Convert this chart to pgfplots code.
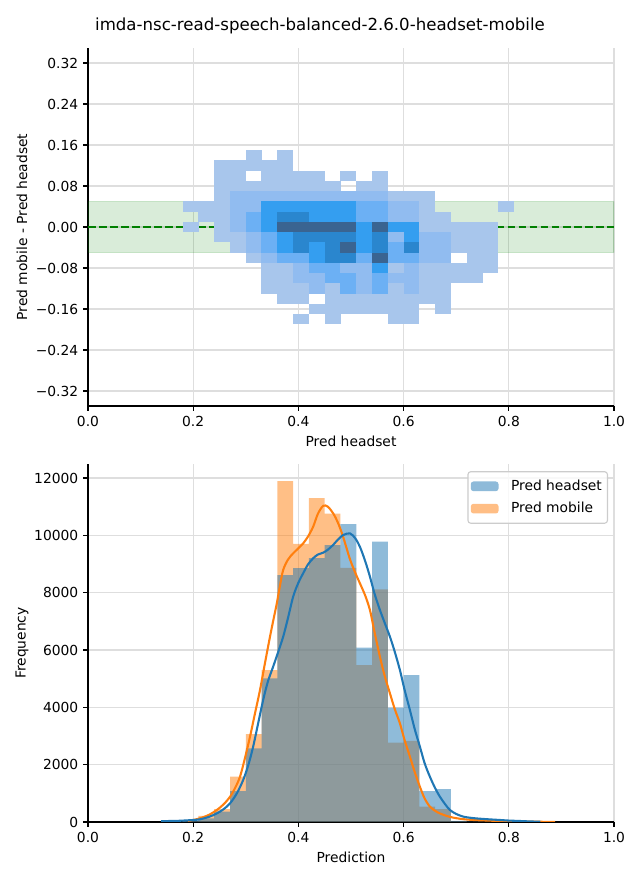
\documentclass[border=0pt]{standalone}
\usepackage{fontspec}
\setmainfont{DejaVu Sans}
\usepackage{pgfplots}
\pgfplotsset{compat=1.18}
\definecolor{cblue}{RGB}{31,119,180}
\definecolor{corange}{RGB}{255,127,14}
\definecolor{mplgreen}{RGB}{0,128,0}
\definecolor{gridgray}{RGB}{222,222,222}
\definecolor{legframe}{RGB}{204,204,204}
\pgfdeclareplotmark{cell}{\pgfpathrectangle{\pgfpoint{-5.74bp}{-3.74bp}}{\pgfpoint{11.48bp}{7.48bp}}\pgfusepathqfill}
\pgfplotsset{
  common/.style={
    width=378.72bp, height=257.76bp, scale only axis,
    xmin=0, xmax=1,
    axis x line*=bottom, axis y line*=left,
    axis line style={black, line width=0.8bp, -},
    tick style={black, line width=0.8bp},
    tick align=outside, major tick length=3.5bp,
    grid=major, grid style={gridgray, line width=0.8bp},
    scaled ticks=false,
    xtick={0,0.2,0.4,0.6,0.8,1}, xticklabels={0.0,0.2,0.4,0.6,0.8,1.0},
    tick label style={font=\fontsize{10}{12}\selectfont},
    label style={font=\fontsize{10}{12}\selectfont},
    every axis x label/.style={at={(axis description cs:0.5,-0.0978)}, anchor=center},
    every axis y label/.style={at={(axis description cs:-0.1255,0.5)}, rotate=90, anchor=center},
  }
}
\begin{document}
\begin{tikzpicture}
\useasboundingbox (0,0) rectangle (460.8bp,633.6bp);
\node[font=\fontsize{12}{14}\selectfont] at (230.4bp,614.88bp) {imda-nsc-read-speech-balanced-2.6.0-headset-mobile};
% ---------------- top: 2D histogram ----------------
\begin{axis}[common, at={(63.36bp,341.28bp)}, anchor=south west,
  ymin=-0.3493, ymax=0.3493,
  ytick={-0.32,-0.24,-0.16,-0.08,0,0.08,0.16,0.24,0.32},
  yticklabels={−0.32,−0.24,−0.16,−0.08,0.00,0.08,0.16,0.24,0.32},
  xlabel={Pred headset}, ylabel={Pred mobile - Pred headset},
  colormap={seab}{rgb255=(168,198,236) rgb255=(145,188,240) rgb255=(108,176,244) rgb255=(52,158,240) rgb255=(42,134,206) rgb255=(58,100,145)},
  point meta min=1, point meta max=6]
\addplot[draw=mplgreen, draw opacity=0.15, fill=mplgreen, fill opacity=0.15, line width=0.8bp]
  coordinates {(0,-0.05) (0,0.05) (1,0.05) (1,-0.05) (0,-0.05)};
\addplot[scatter, only marks, mark=cell, point meta=explicit,
  scatter/use mapped color={fill=mapped color, draw=none}]
  table[meta=c] {
x y c
0.195 0.04 1
0.195 0.00 1
0.225 0.04 1
0.225 0.02 1
0.255 0.12 1
0.255 0.10 1
0.255 0.08 1
0.255 0.06 1
0.255 0.04 1
0.255 0.02 1
0.255 0.00 1
0.255 -0.02 1
0.285 0.12 1
0.285 0.10 1
0.285 0.08 1
0.285 0.06 2
0.285 0.04 2
0.285 0.02 2
0.285 0.00 2
0.285 -0.02 1
0.285 -0.04 1
0.315 0.14 1
0.315 0.12 1
0.315 0.08 1
0.315 0.06 2
0.315 0.04 2
0.315 0.02 3
0.315 0.00 3
0.315 -0.02 2
0.315 -0.04 2
0.315 -0.06 1
0.345 0.12 1
0.345 0.10 1
0.345 0.08 1
0.345 0.06 2
0.345 0.04 4
0.345 0.02 4
0.345 0.00 4
0.345 -0.02 3
0.345 -0.04 3
0.345 -0.06 2
0.345 -0.08 1
0.345 -0.10 1
0.345 -0.12 1
0.375 0.14 1
0.375 0.12 1
0.375 0.10 1
0.375 0.08 1
0.375 0.06 2
0.375 0.04 4
0.375 0.02 5
0.375 0.00 6
0.375 -0.02 4
0.375 -0.04 4
0.375 -0.06 3
0.375 -0.08 1
0.375 -0.10 1
0.375 -0.12 1
0.375 -0.14 1
0.405 0.10 1
0.405 0.08 1
0.405 0.06 2
0.405 0.04 4
0.405 0.02 5
0.405 0.00 6
0.405 -0.02 5
0.405 -0.04 5
0.405 -0.06 3
0.405 -0.08 2
0.405 -0.10 2
0.405 -0.12 1
0.405 -0.14 1
0.405 -0.18 1
0.435 0.10 1
0.435 0.08 1
0.435 0.06 2
0.435 0.04 4
0.435 0.02 4
0.435 0.00 6
0.435 -0.02 5
0.435 -0.04 4
0.435 -0.06 4
0.435 -0.08 3
0.435 -0.10 2
0.435 -0.12 2
0.435 -0.16 1
0.465 0.08 1
0.465 0.06 2
0.465 0.04 4
0.465 0.02 4
0.465 0.00 6
0.465 -0.02 5
0.465 -0.04 5
0.465 -0.06 5
0.465 -0.08 3
0.465 -0.10 3
0.465 -0.12 1
0.465 -0.14 1
0.465 -0.16 1
0.465 -0.18 1
0.495 0.10 1
0.495 0.06 2
0.495 0.04 4
0.495 0.02 4
0.495 0.00 6
0.495 -0.02 5
0.495 -0.04 6
0.495 -0.06 5
0.495 -0.08 2
0.495 -0.10 3
0.495 -0.12 3
0.495 -0.14 1
0.495 -0.16 1
0.525 0.08 1
0.525 0.06 2
0.525 0.04 3
0.525 0.02 3
0.525 0.00 4
0.525 -0.02 4
0.525 -0.04 4
0.525 -0.06 3
0.525 -0.08 2
0.525 -0.10 2
0.525 -0.12 2
0.525 -0.14 1
0.525 -0.16 1
0.555 0.10 1
0.555 0.08 1
0.555 0.06 2
0.555 0.04 3
0.555 0.02 3
0.555 0.00 6
0.555 -0.02 5
0.555 -0.04 5
0.555 -0.06 6
0.555 -0.08 4
0.555 -0.10 3
0.555 -0.12 3
0.555 -0.14 1
0.555 -0.16 1
0.585 0.06 1
0.585 0.04 2
0.585 0.02 2
0.585 0.00 4
0.585 -0.02 2
0.585 -0.04 3
0.585 -0.06 3
0.585 -0.08 1
0.585 -0.10 2
0.585 -0.12 1
0.585 -0.14 1
0.585 -0.16 1
0.585 -0.18 1
0.615 0.06 1
0.615 0.04 2
0.615 0.02 2
0.615 0.00 4
0.615 -0.02 4
0.615 -0.04 5
0.615 -0.06 3
0.615 -0.08 2
0.615 -0.10 2
0.615 -0.12 2
0.615 -0.14 1
0.615 -0.16 1
0.615 -0.18 1
0.645 0.06 1
0.645 0.04 1
0.645 0.02 1
0.645 0.00 1
0.645 -0.02 2
0.645 -0.04 2
0.645 -0.06 2
0.645 -0.08 1
0.645 -0.10 1
0.645 -0.12 1
0.645 -0.14 1
0.675 0.02 1
0.675 0.00 1
0.675 -0.02 2
0.675 -0.04 2
0.675 -0.06 2
0.675 -0.08 1
0.675 -0.10 1
0.675 -0.12 1
0.675 -0.14 1
0.675 -0.16 1
0.705 0.00 1
0.705 -0.02 1
0.705 -0.04 1
0.705 -0.08 1
0.705 -0.10 1
0.735 0.00 1
0.735 -0.02 1
0.735 -0.04 1
0.735 -0.06 1
0.735 -0.08 1
0.735 -0.10 1
0.765 0.00 1
0.765 -0.02 1
0.765 -0.04 1
0.765 -0.06 1
0.765 -0.08 1
0.795 0.04 1
};
\addplot[mplgreen, line width=1.5bp, dash pattern=on 5.55bp off 2.4bp] coordinates {(0,0) (1,0)};
\end{axis}
% ---------------- bottom: 1D histograms ----------------
\begin{axis}[common, at={(63.36bp,41.76bp)}, anchor=south west,
  ymin=0, ymax=12490,
  ytick={0,2000,4000,6000,8000,10000,12000},
  yticklabels={0,2000,4000,6000,8000,10000,12000},
  xlabel={Prediction}, ylabel={Frequency},
  legend style={at={(0.9886,0.98)}, anchor=north east, draw=legframe, fill=white, fill opacity=0.8, text opacity=1, rounded corners=2bp, font=\fontsize{10}{12}\selectfont, line width=0.8bp, inner xsep=2bp, inner ysep=4bp, row sep=3bp},
  legend cell align=left,
  legend image code/.code={\fill[#1] (0bp,-3.5bp) rectangle (20bp,3.5bp); \path (27bp,0bp);}]
\addlegendimage{fill=cblue, fill opacity=0.5, draw=none}
\addlegendentry{Pred headset}
\addlegendimage{fill=corange, fill opacity=0.5, draw=none}
\addlegendentry{Pred mobile}
% Pred mobile histogram (left bin edge, count)
\addplot[const plot, fill=corange, fill opacity=0.5, draw=none, forget plot] coordinates {
(0.18,20) (0.21,210) (0.24,450) (0.27,1580) (0.30,3070) (0.33,5300) (0.36,11895) (0.39,9700)
(0.42,11300) (0.45,10755) (0.48,8870) (0.51,5477) (0.54,8117) (0.57,2767) (0.60,2826)
(0.63,535) (0.66,453) (0.69,20) (0.72,8) (0.75,4) (0.78,2) (0.81,1) (0.84,1) (0.87,0)
} \closedcycle;
% Pred headset histogram
\addplot[const plot, fill=cblue, fill opacity=0.5, draw=none, forget plot] coordinates {
(0.15,8) (0.18,40) (0.21,130) (0.24,360) (0.27,1080) (0.30,2570) (0.33,5010) (0.36,8616)
(0.39,8860) (0.42,9210) (0.45,9663) (0.48,10395) (0.51,6080) (0.54,9779) (0.57,3988)
(0.60,5128) (0.63,1081) (0.66,1151) (0.69,40) (0.72,15) (0.75,8) (0.78,4) (0.81,2) (0.84,1) (0.87,0)
} \closedcycle;
% KDE Pred mobile
\addplot[corange, line width=1.5bp, smooth, forget plot] coordinates {
(0.19,40) (0.20,70) (0.213,130) (0.23,250) (0.245,420) (0.258,620) (0.270,880) (0.28,1200)
(0.289,1580) (0.298,2200) (0.308,2975) (0.317,3750) (0.327,4605) (0.336,5500) (0.346,6465)
(0.353,7100) (0.359,7630) (0.365,8250) (0.371,8790) (0.380,9150) (0.390,9373) (0.400,9550)
(0.409,9720) (0.418,9950) (0.428,10300) (0.437,10750) (0.447,11030) (0.456,11000) (0.466,10770)
(0.475,10450) (0.485,9950) (0.498,9170) (0.508,8700) (0.517,8325) (0.527,7900) (0.536,7395)
(0.545,6600) (0.555,5765) (0.564,5100) (0.574,4490) (0.583,3950) (0.593,3440) (0.602,2850)
(0.612,2280) (0.621,1750) (0.631,1230) (0.640,820) (0.650,535) (0.660,390) (0.669,300)
(0.682,210) (0.695,150) (0.713,100) (0.733,70) (0.76,50) (0.783,35) (0.82,20) (0.86,8) (0.888,4)
};
% KDE Pred headset
\addplot[cblue, line width=1.5bp, smooth, forget plot] coordinates {
(0.139,30) (0.17,40) (0.20,70) (0.213,94) (0.23,180) (0.245,300) (0.258,450) (0.270,650)
(0.283,1000) (0.295,1465) (0.305,2000) (0.314,2630) (0.323,3400) (0.333,4255) (0.342,4900)
(0.352,5420) (0.361,5900) (0.371,6460) (0.380,7100) (0.390,7860) (0.400,8350) (0.409,8675)
(0.418,8980) (0.428,9200) (0.437,9330) (0.447,9395) (0.456,9500) (0.466,9665) (0.475,9850)
(0.485,10010) (0.498,10070) (0.508,9900) (0.517,9600) (0.527,9100) (0.536,8560) (0.545,7950)
(0.555,7395) (0.564,6950) (0.574,6465) (0.583,5950) (0.593,5300) (0.602,4600) (0.612,3907)
(0.621,3250) (0.631,2627) (0.640,2050) (0.650,1580) (0.660,1180) (0.669,883) (0.679,620)
(0.688,420) (0.700,280) (0.714,185) (0.730,140) (0.745,115) (0.765,90) (0.783,70) (0.80,50)
(0.821,35) (0.84,20) (0.86,10)
};
\end{axis}
\end{tikzpicture}
\end{document}
